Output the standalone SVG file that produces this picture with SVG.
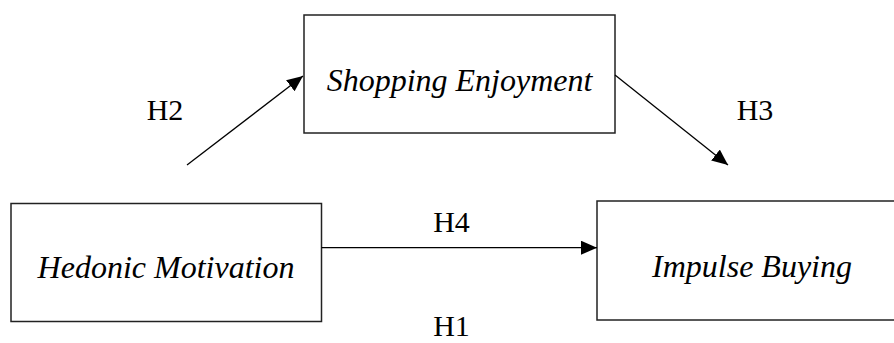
<svg xmlns="http://www.w3.org/2000/svg" width="894" height="343" viewBox="0 0 894 343">
<style>
.box{fill:#fff;stroke:#222;stroke-width:1.5}
.lbl{font-family:"Liberation Serif","Times New Roman",serif;font-style:italic;font-size:32px;fill:#000;text-anchor:middle}
.h{font-family:"Liberation Serif","Times New Roman",serif;font-size:30px;fill:#000;text-anchor:middle}
.c{stroke:#000;stroke-width:1.3;fill:none;marker-end:url(#ah)}
</style>
<defs>
<marker id="ah" markerUnits="userSpaceOnUse" markerWidth="18" markerHeight="16" refX="16" refY="7" orient="auto">
<path d="M0,0 L16,7 L0,14 Z" fill="#000"/>
</marker>
</defs>
<g id="shopping-enjoyment">
<rect class="box" x="304" y="15" width="311" height="118"/>
<text class="lbl" x="459.5" y="91">Shopping Enjoyment</text>
</g>
<g id="hedonic-motivation">
<rect class="box" x="11" y="203.5" width="310.5" height="118"/>
<text class="lbl" x="166" y="278">Hedonic Motivation</text>
</g>
<g id="impulse-buying">
<rect class="box" x="597" y="201" width="310" height="119"/>
<text class="lbl" x="752" y="277">Impulse Buying</text>
</g>
<g id="connectors">
<line class="c" x1="187" y1="165" x2="303" y2="76"/>
<line class="c" x1="615" y1="75" x2="728" y2="165"/>
<line class="c" x1="321.5" y1="247.7" x2="597" y2="247.7"/>
</g>
<g id="labels">
<text class="h" x="165" y="120">H2</text>
<text class="h" x="755" y="120">H3</text>
<text class="h" x="451.5" y="232">H4</text>
<text class="h" x="451.5" y="336">H1</text>
</g>
</svg>
